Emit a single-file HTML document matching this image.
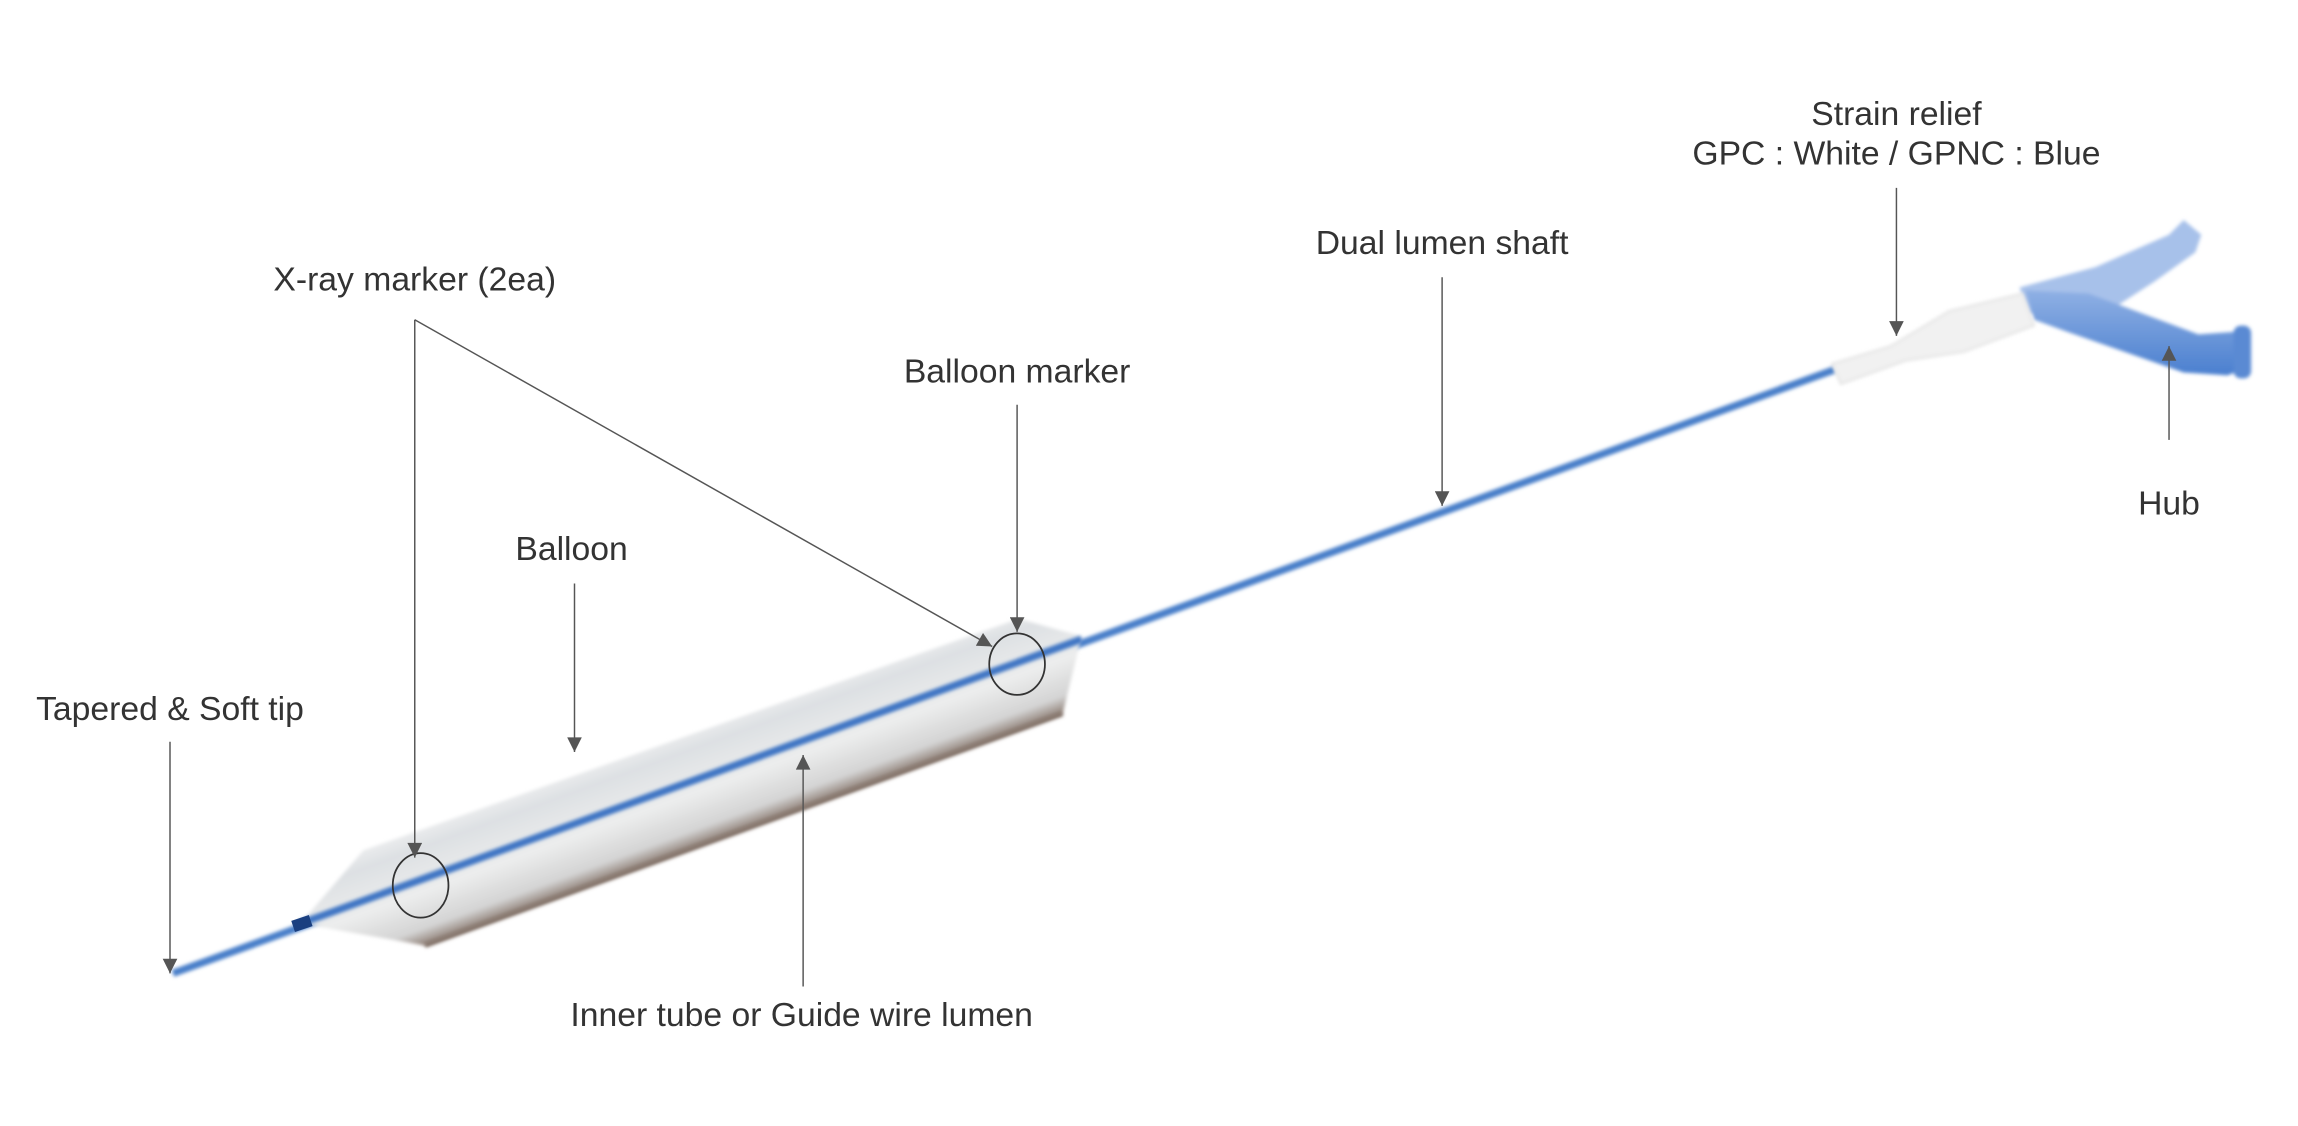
<!DOCTYPE html>
<html><head><meta charset="utf-8"><style>
html,body{margin:0;padding:0;background:#fff;}
svg{display:block;}
text{font-family:"Liberation Sans",sans-serif;font-size:23px;fill:#333;text-anchor:middle;}
</style></head><body>
<svg width="2298" height="1126" viewBox="0 0 1568 768" xmlns="http://www.w3.org/2000/svg">
<defs>
<linearGradient id="bal" gradientUnits="userSpaceOnUse" x1="430" y1="470" x2="470" y2="580">
<stop offset="0" stop-color="#e2e2e2"/>
<stop offset="0.25" stop-color="#f7f7f7"/>
<stop offset="0.45" stop-color="#dde0e3"/>
<stop offset="0.7" stop-color="#eceded"/>
<stop offset="0.9" stop-color="#d4d4d4"/>
<stop offset="1" stop-color="#8a7a70"/>
</linearGradient>
<linearGradient id="hub" x1="0" y1="0" x2="0" y2="1">
<stop offset="0" stop-color="#8fb0e4"/>
<stop offset="1" stop-color="#4a7fcf"/>
</linearGradient>
<marker id="ah" viewBox="0 0 10 10" refX="10" refY="5" markerWidth="14" markerHeight="10" markerUnits="userSpaceOnUse" orient="auto">
<path d="M0,0 L10,5 L0,10 z" fill="#555"/>
</marker>
<filter id="bl"><feGaussianBlur stdDeviation="1.2"/></filter>
</defs>
<line x1="118" y1="664" x2="1252" y2="252" stroke="#4a7fc9" stroke-width="5" filter="url(#bl)"/>
<path d="M205,630 L248,580 L695,422 L738,434 L725,487 L290,645 Z" fill="url(#bal)" filter="url(#bl)"/>
<path d="M290,645 L725,487" stroke="#7c6a60" stroke-width="3" filter="url(#bl)"/>
<line x1="205" y1="630" x2="738" y2="436" stroke="#3f76c4" stroke-width="5" filter="url(#bl)"/>
<line x1="200" y1="632" x2="212" y2="628" stroke="#1a3f80" stroke-width="8"/>
<!-- hub -->
<g filter="url(#bl)">
<path d="M1378,196 L1430,182 L1480,160 L1490,150 L1502,160 L1498,172 L1470,192 L1436,214 L1385,214 Z" fill="#a7c1ea"/>
<path d="M1382,198 L1425,200 L1500,228 L1528,226 L1534,250 L1520,256 L1490,254 L1410,226 L1388,218 Z" fill="url(#hub)"/>
<rect x="1524" y="222" width="12" height="36" rx="5" fill="#5a8ad3"/>
</g>
<!-- strain relief -->
<path d="M1250,248 L1290,236 L1330,212 L1380,200 L1388,222 L1340,240 L1300,246 L1256,262 Z" fill="#f1f1f1" stroke="#ddd" stroke-width="1" filter="url(#bl)"/>
<ellipse cx="287" cy="604" rx="19" ry="22" fill="none" stroke="#333" stroke-width="1.2"/>
<ellipse cx="694" cy="453" rx="19" ry="21" fill="none" stroke="#333" stroke-width="1.2"/>
<g stroke="#555" stroke-width="1" fill="none">
<line x1="116" y1="506" x2="116" y2="664" marker-end="url(#ah)"/>
<line x1="283" y1="218" x2="283" y2="585" marker-end="url(#ah)"/>
<line x1="283" y1="218" x2="677" y2="441" marker-end="url(#ah)"/>
<line x1="392" y1="398" x2="392" y2="513" marker-end="url(#ah)"/>
<line x1="694" y1="276" x2="694" y2="431" marker-end="url(#ah)"/>
<line x1="984" y1="189" x2="984" y2="345" marker-end="url(#ah)"/>
<line x1="1294" y1="128" x2="1294" y2="229" marker-end="url(#ah)"/>
<line x1="1480" y1="300" x2="1480" y2="236" marker-end="url(#ah)"/>
<line x1="548" y1="673" x2="548" y2="515" marker-end="url(#ah)"/>
</g>
<text x="116" y="491">Tapered &amp; Soft tip</text>
<text x="283" y="198">X-ray marker (2ea)</text>
<text x="390" y="382">Balloon</text>
<text x="694" y="261">Balloon marker</text>
<text x="984" y="173">Dual lumen shaft</text>
<text x="1294" y="85">Strain relief</text>
<text x="1294" y="112">GPC : White / GPNC : Blue</text>
<text x="1480" y="351">Hub</text>
<text x="547" y="700">Inner tube or Guide wire lumen</text>
</svg>
</body></html>
